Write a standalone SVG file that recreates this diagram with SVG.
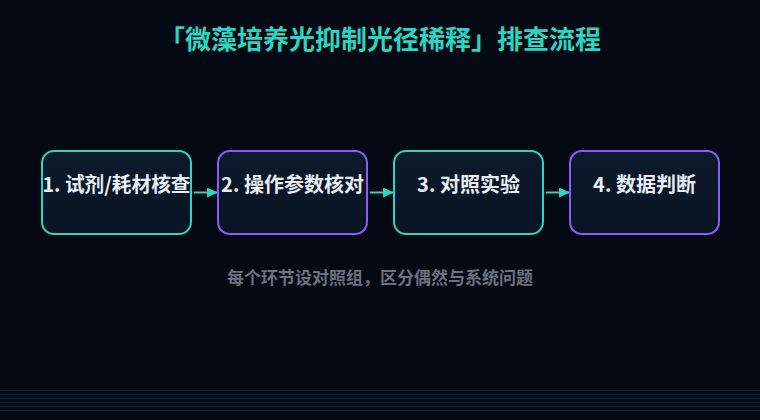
<svg xmlns="http://www.w3.org/2000/svg" width="760" height="420" viewBox="0 0 760 420">
<defs>
<linearGradient id="nodeFill" x1="0" y1="0" x2="0" y2="1">
<stop offset="0" stop-color="#0c1a2c"/>
<stop offset="1" stop-color="#0a1424"/>
</linearGradient>
<marker id="arrow" markerWidth="11" markerHeight="10" refX="10" refY="5" orient="auto" markerUnits="userSpaceOnUse">
<path d="M0,0 L11,5 L0,10 Z" fill="#2dd4bf"/>
</marker>
</defs>
<style>
.bg{fill:#050914}
.node rect{fill:url(#nodeFill);stroke-width:2}
.teal rect{stroke:#2dd4bf}
.violet rect{stroke:#8b5cf6}
.label{font-family:"Noto Sans CJK SC","Noto Sans",sans-serif;font-weight:700;font-size:20px;fill:#e8edf5;text-anchor:middle}
.title{font-family:"Noto Sans CJK SC","Noto Sans",sans-serif;font-weight:700;font-size:26px;fill:#2dd4bf;text-anchor:middle}
.sub{font-family:"Noto Sans CJK SC","Noto Sans",sans-serif;font-weight:700;font-size:17px;fill:#6b7280;text-anchor:middle}
.edge{stroke:#2dd4bf;stroke-width:2;fill:none;marker-end:url(#arrow)}
.grid{stroke:#142434;stroke-width:1}
</style>
<rect class="bg" x="0" y="0" width="760" height="420"/>
<g id="grid-lines">
<line class="grid" x1="0" y1="390.5" x2="760" y2="390.5" stroke="#1a3044"/>
<line class="grid" x1="0" y1="394.5" x2="760" y2="394.5"/>
<line class="grid" x1="0" y1="398.5" x2="760" y2="398.5"/>
<line class="grid" x1="0" y1="402.5" x2="760" y2="402.5"/>
<line class="grid" x1="0" y1="406.5" x2="760" y2="406.5"/>
<line class="grid" x1="0" y1="410.5" x2="760" y2="410.5"/>
</g>
<text class="title" x="380" y="49">「微藻培养光抑制光径稀释」排查流程</text>
<g id="connectors">
<line class="edge" x1="194" y1="192.5" x2="217" y2="192.5"/>
<line class="edge" x1="370" y1="192.5" x2="393" y2="192.5"/>
<line class="edge" x1="546" y1="192.5" x2="569" y2="192.5"/>
</g>
<g id="node1" class="node teal">
<rect x="42" y="151" width="149" height="83" rx="12"/>
<text class="label" x="116.5" y="192" textLength="148" lengthAdjust="spacingAndGlyphs">1. 试剂/耗材核查</text>
</g>
<g id="node2" class="node violet">
<rect x="218" y="151" width="149" height="83" rx="12"/>
<text class="label" x="292.5" y="192">2. 操作参数核对</text>
</g>
<g id="node3" class="node teal">
<rect x="394" y="151" width="149" height="83" rx="12"/>
<text class="label" x="468.5" y="192">3. 对照实验</text>
</g>
<g id="node4" class="node violet">
<rect x="570" y="151" width="149" height="83" rx="12"/>
<text class="label" x="644.5" y="192">4. 数据判断</text>
</g>
<text class="sub" x="380" y="284">每个环节设对照组，区分偶然与系统问题</text>
</svg>
